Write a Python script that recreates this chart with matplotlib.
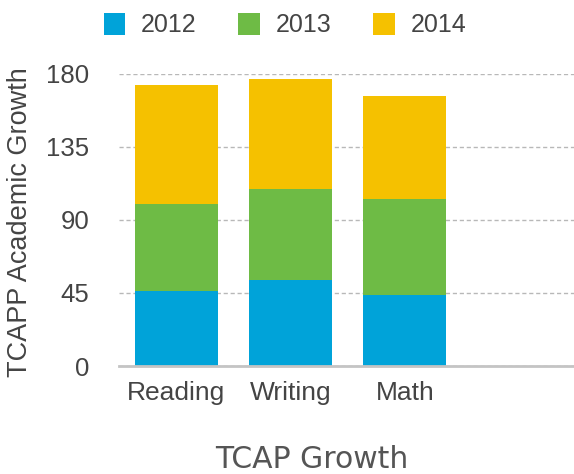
import matplotlib
matplotlib.use("Agg")
import matplotlib.pyplot as plt
import numpy as np

categories = ["Reading", "Writing", "Math"]
years = ["2012", "2013", "2014"]
v2012 = [46, 53, 44]
v2013 = [54, 56, 59]
v2014 = [73, 68, 63]
colors = ["#00A3D9", "#6EBB45", "#F5C100"]
yticks = [0, 45, 90, 135, 180]

plt.rcParams['font.family'] = ['Liberation Sans', 'DejaVu Sans']
fig = plt.figure(figsize=(5.74, 4.74), dpi=100)
ax = fig.add_axes([119/574, 1 - 366/474, 1 - 119/574, (366 - 73.7)/474])

x = np.arange(len(categories))
bottom = np.zeros(len(categories))
handles = []
for vals, col, lab in zip([v2012, v2013, v2014], colors, years):
    b = ax.bar(x, vals, width=0.725, bottom=bottom, color=col, label=lab, zorder=3)
    handles.append(b)
    bottom += np.array(vals)

ax.set_xlim(-0.5, 3.48)
ax.set_ylim(0, 180)
ax.set_yticks(yticks)
ax.set_yticklabels([str(t) for t in yticks])
ax.set_xticks(x)
ax.set_xticklabels(categories)
ax.tick_params(axis='y', length=0, pad=21.5, labelsize=18.5, labelcolor='#444444')
ax.tick_params(axis='x', length=0, pad=11, labelsize=19, labelcolor='#444444')
for s in ['left', 'right', 'top']:
    ax.spines[s].set_visible(False)
ax.spines['bottom'].set_color('#c4c4c4')
ax.spines['bottom'].set_linewidth(2)
ax.spines['bottom'].set_zorder(4)
ax.yaxis.grid(True, linestyle=(0, (3, 2)), color='#b8b8b8', linewidth=1, zorder=0)
ax.set_axisbelow(True)

ax.set_ylabel("TCAPP Academic Growth", fontsize=19.5, color='#444444')
ax.yaxis.set_label_coords(-(119 - 33) / 455, (366 - 222) / 292.3)

fig.text(312/574, 1 - 460/474, "TCAP Growth", fontsize=21.5, color='#555555',
         family=['DejaVu Sans'], ha='center', va='center')

fig.legend(handles=handles, labels=years, loc='center', bbox_to_anchor=(285/574, 1 - 25/474),
           ncol=3, frameon=False, fontsize=18, handlelength=0.85, handleheight=0.96,
           handletextpad=0.64, columnspacing=1.68, labelcolor='#444444')

fig.savefig("out.png", dpi=100)
